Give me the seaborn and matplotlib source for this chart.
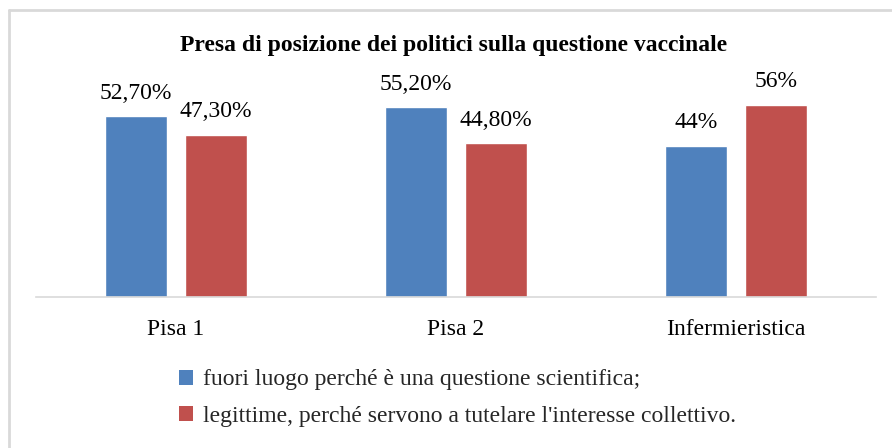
import matplotlib
matplotlib.use("Agg")
import matplotlib.pyplot as plt
import seaborn as sns
import pandas as pd
from matplotlib.patches import Patch
from matplotlib.lines import Line2D

categories = ["Pisa 1", "Pisa 2", "Infermieristica"]
series_names = ["fuori luogo perché è una questione scientifica;",
                "legittime, perché servono a tutelare l'interesse collettivo."]
blue_values = [52.7, 55.2, 44.0]
red_values = [47.3, 44.8, 56.0]
blue_labels = ["52,70%", "55,20%", "44%"]
red_labels = ["47,30%", "44,80%", "56%"]
colors = ["#4F81BD", "#C0504D"]
title = "Presa di posizione dei politici sulla questione vaccinale"

df = pd.DataFrame({
    "cat": categories * 2,
    "serie": [series_names[0]] * 3 + [series_names[1]] * 3,
    "val": blue_values + red_values,
    "lab": blue_labels + red_labels,
})

sns.set_style("white")
plt.rcParams["font.family"] = ["Liberation Serif", "DejaVu Serif"]

fig = plt.figure(figsize=(8.92, 4.48), dpi=100)
ax = fig.add_axes([36/892, 1-297/448, 840/892, (297-91)/448])

sns.barplot(data=df, x="cat", y="val", hue="serie", palette=colors,
            width=0.571, gap=0.225, ax=ax, legend=False, saturation=1)

for i, cont in enumerate(ax.containers):
    labs = blue_labels if i == 0 else red_labels
    ax.bar_label(cont, labels=labs, padding=9, fontsize=17, color="#000000")

ax.set_xlim(-0.5, 2.5)
ax.set_ylim(0, 60)
ax.set_xlabel("")
ax.set_ylabel("")
ax.set_yticks([])
ax.tick_params(axis="x", length=0, labelsize=17, pad=16, colors="#000000")
for s in ["top", "right", "left"]:
    ax.spines[s].set_visible(False)
ax.spines["bottom"].set_color("#d9d9d9")
ax.spines["bottom"].set_linewidth(1.2)

fig.text(454/892, 1 - 45/448, title, ha="center", va="center",
         fontsize=17, fontweight="bold", color="#000000")

handles = [Patch(facecolor=c, edgecolor="none") for c in colors]
fig.legend(handles, series_names, loc="center left",
           bbox_to_anchor=(179/892, 1 - 398/448), frameon=False, ncol=1,
           fontsize=17, handlelength=0.6, handleheight=0.6, handletextpad=0.4,
           labelspacing=0.65, borderaxespad=0, borderpad=0)

fig.lines.append(Line2D([9/892, 9/892], [0, 1 - 10/448], transform=fig.transFigure,
                        color="#d9d9d9", linewidth=2))
fig.lines.append(Line2D([9/892, 1], [1 - 10/448, 1 - 10/448], transform=fig.transFigure,
                        color="#d9d9d9", linewidth=2))

fig.savefig("out.png", dpi=100)
